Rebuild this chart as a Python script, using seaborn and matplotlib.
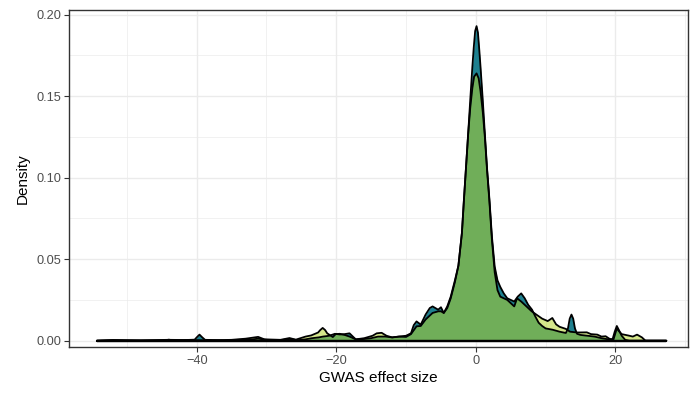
import numpy as np
import pandas as pd
import matplotlib
matplotlib.use('Agg')
import matplotlib.pyplot as plt
import seaborn as sns

# density curves (x = effect size, y = density)
teal_x = [-54.3, -52.0, -50.0, -48.0, -44.5, -44.0, -43.3, -40.3, -40.0, -39.6, -39.2, -38.8,
          -36.0, -34.0, -32.0, -31.2, -30.0, -28.0, -26.7, -25.5, -24.4, -23.5, -22.5, -21.9,
          -21.0, -20.2, -19.5, -18.8, -18.1, -17.5, -17.2, -16.0, -15.0, -14.0, -13.0, -12.0,
          -11.0, -10.0, -9.3, -8.9, -8.5, -8.1, -7.9, -7.2, -6.6, -6.2, -5.8, -5.4, -5.0, -4.6,
          -4.1, -3.6, -3.0, -2.5, -2.2, -2.0, -1.7, -1.4, -1.1, -0.8, -0.5, -0.3, -0.1, 0.1, 0.3,
          0.5, 0.67, 1.0, 1.29, 1.6, 1.95, 2.3, 2.7, 3.1, 3.5, 4.0, 4.5, 5.0, 5.5, 6.0, 6.5, 7.0,
          7.5, 8.05, 8.5, 9.0, 9.5, 10.0, 11.0, 12.0, 12.9, 13.2, 13.45, 13.7, 13.95, 14.2, 14.5,
          15.0, 16.0, 17.0, 18.0, 19.0, 19.6, 19.9, 20.2, 20.5, 20.9, 21.4, 22.0, 27.3]
teal_y = [0.0, 0.0004, 0.0002, 0.0001, 0.0002, 0.0006, 0.0001, 0.0006, 0.0020, 0.0037, 0.0020, 0.0005,
          0.0002, 0.0005, 0.0008, 0.0012, 0.0005, 0.0003, 0.0010, 0.0003, 0.0008, 0.0015, 0.0020, 0.0025,
          0.0030, 0.0042, 0.0038, 0.0040, 0.0045, 0.0020, 0.0008, 0.0010, 0.0015, 0.0025, 0.0025, 0.0020,
          0.0025, 0.0030, 0.0045, 0.0095, 0.0118, 0.0105, 0.0098, 0.0160, 0.0200, 0.0210, 0.0200, 0.0190,
          0.0205, 0.0170, 0.0210, 0.0270, 0.0370, 0.0460, 0.0580, 0.0660, 0.0870, 0.1070, 0.1270, 0.1480,
          0.1680, 0.1800, 0.1900, 0.1930, 0.1890, 0.1780, 0.1680, 0.1470, 0.1270, 0.1060, 0.0865, 0.0640,
          0.0455, 0.0370, 0.0330, 0.0290, 0.0260, 0.0250, 0.0240, 0.0270, 0.0290, 0.0260, 0.0220, 0.0190,
          0.0150, 0.0110, 0.0090, 0.0075, 0.0067, 0.0055, 0.0047, 0.0075, 0.0135, 0.0160, 0.0135, 0.0075,
          0.0042, 0.0035, 0.0030, 0.0025, 0.0015, 0.0008, 0.0010, 0.0055, 0.0090, 0.0065, 0.0030, 0.0005,
          0.0, 0.0]

yellow_x = [-54.3, -52.0, -48.0, -44.0, -40.0, -38.0, -35.0, -33.0, -31.2, -30.3, -28.0, -26.7,
            -25.8, -24.4, -23.6, -22.6, -22.3, -21.95, -21.6, -21.3, -20.5, -20.1, -19.5, -18.8,
            -18.1, -17.2, -16.0, -14.8, -14.2, -13.5, -12.8, -12.0, -11.0, -10.0, -9.3, -8.5, -7.9,
            -7.2, -6.2, -5.4, -5.0, -4.6, -4.1, -3.6, -3.0, -2.5, -2.2, -2.0, -1.7, -1.4, -1.1, -0.8,
            -0.5, -0.25, 0.1, 0.4, 0.67, 1.0, 1.29, 1.6, 1.95, 2.3, 2.7, 3.1, 3.5, 4.0, 4.5, 5.0,
            5.5, 5.9, 6.5, 7.0, 8.0, 9.0, 9.5, 10.3, 10.96, 11.5, 12.0, 12.9, 13.5, 14.5, 15.9,
            16.5, 17.4, 18.0, 18.6, 19.2, 19.7, 19.95, 20.2, 20.5, 20.9, 21.9, 22.5, 23.1, 23.8,
            24.3, 27.3]
yellow_y = [0.0, 0.0003, 0.0002, 0.0005, 0.0003, 0.0002, 0.0005, 0.0012, 0.0023, 0.0008, 0.0005, 0.0016,
            0.0006, 0.0025, 0.0032, 0.0050, 0.0065, 0.0078, 0.0065, 0.0045, 0.0022, 0.0040, 0.0042, 0.0035,
            0.0025, 0.0008, 0.0015, 0.0030, 0.0045, 0.0048, 0.0030, 0.0020, 0.0025, 0.0023, 0.0040, 0.0088,
            0.0090, 0.0130, 0.0170, 0.0180, 0.0180, 0.0170, 0.0200, 0.0260, 0.0360, 0.0460, 0.0580, 0.0660,
            0.0870, 0.1070, 0.1270, 0.1430, 0.1550, 0.1620, 0.1640, 0.1610, 0.1530, 0.1400, 0.1250, 0.1050,
            0.0850, 0.0620, 0.0420, 0.0310, 0.0270, 0.0260, 0.0250, 0.0230, 0.0210, 0.0260, 0.0240, 0.0220,
            0.0180, 0.0150, 0.0135, 0.0120, 0.0139, 0.0100, 0.0085, 0.0072, 0.0055, 0.0050, 0.0051, 0.0040,
            0.0037, 0.0025, 0.0027, 0.0010, 0.0005, 0.0040, 0.0075, 0.0058, 0.0040, 0.0031, 0.0025, 0.0037,
            0.0020, 0.0, 0.0]

x_ticks = [-40, -20, 0, 20]
y_ticks = [0.00, 0.05, 0.10, 0.15, 0.20]
y_tick_labels = ['0.00', '0.05', '0.10', '0.15', '0.20']

sns.set_theme(style='whitegrid')
plt.rcParams['font.family'] = ['Liberation Sans', 'DejaVu Sans']

fig, ax = plt.subplots(figsize=(6.92, 4.01), dpi=100)
fig.subplots_adjust(left=69 / 692, right=688 / 692, top=1 - 10 / 401, bottom=1 - 347 / 401)

curves = [
    (teal_x, teal_y, '#1E808F', 1.0),
    (yellow_x, yellow_y, '#B4D52D', 0.55),
]
for xs, ys, color, alpha in curves:
    df = pd.DataFrame({'x': xs, 'y': ys})
    ax.fill_between(df['x'], 0, df['y'], color=color, alpha=alpha, lw=0, zorder=2)
for xs, ys, color, alpha in curves:
    df = pd.DataFrame({'x': xs, 'y': ys})
    sns.lineplot(data=df, x='x', y='y', ax=ax, color='black', lw=1.3, zorder=3)
    sns.lineplot(x=[xs[0], xs[-1]], y=[0, 0], ax=ax, color='black', lw=1.6, zorder=3)

ax.set_xlim(-58.3, 30.4)
ax.set_ylim(-0.0039, 0.2029)
ax.set_xticks(x_ticks)
ax.set_xticklabels([f'\u2212{abs(t)}' if t < 0 else str(t) for t in x_ticks])
ax.set_yticks(y_ticks)
ax.set_yticklabels(y_tick_labels)
ax.set_xticks([-50, -30, -10, 10, 30], minor=True)
ax.set_yticks([0.025, 0.075, 0.125, 0.175], minor=True)

ax.grid(which='major', color='#EBEBEB', lw=1.0)
ax.grid(which='minor', color='#EBEBEB', lw=0.5)
ax.set_facecolor('white')
for sp in ax.spines.values():
    sp.set_color('#333333')
    sp.set_linewidth(1.0)
ax.tick_params(which='major', length=3.5, width=0.8, color='#333333',
               labelsize=9.2, labelcolor='#4D4D4D', pad=2, bottom=True, left=True)
ax.tick_params(which='minor', length=0)
ax.set_xlabel('GWAS effect size', fontsize=11, color='black', labelpad=3)
ax.set_ylabel('Density', fontsize=11, color='black', labelpad=5)

fig.savefig('out.png', dpi=100)
